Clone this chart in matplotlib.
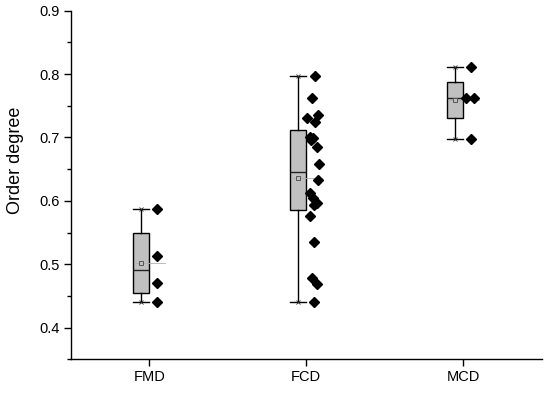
import numpy as np
import matplotlib
matplotlib.use("Agg")
import matplotlib.pyplot as plt
from matplotlib.ticker import MultipleLocator

plt.rcParams['font.family'] = ['Liberation Sans', 'DejaVu Sans']

categories = ["FMD", "FCD", "MCD"]
fmd = [0.587, 0.513, 0.470, 0.440]
fcd = [0.797, 0.763, 0.735, 0.730, 0.725, 0.700, 0.699, 0.696, 0.685, 0.658,
       0.633, 0.613, 0.605, 0.597, 0.594, 0.576, 0.535, 0.478, 0.469, 0.440]
mcd = [0.811, 0.763, 0.763, 0.697]
series = [fmd, fcd, mcd]

# horizontal jitter of the scatter points (data units, relative to point column)
fmd_jitter = [0.0, 0.0, 0.0, 0.0]
fcd_jitter = [0.01, -0.01, 0.025, -0.04, 0.01, -0.025, -0.005, -0.015, 0.02, 0.035,
              0.025, -0.025, -0.005, 0.02, 0.0, -0.025, 0.0, -0.012, 0.02, 0.0]
mcd_jitter = [0.0, -0.03, 0.02, 0.0]
jitters = [fmd_jitter, fcd_jitter, mcd_jitter]


def tukey_stats(data, label):
    d = np.sort(np.asarray(data))
    n = len(d)
    lower = d[:n // 2]
    upper = d[(n + 1) // 2:]
    return dict(label=label, med=float(np.median(d)), q1=float(np.median(lower)),
                q3=float(np.median(upper)), whislo=float(d.min()), whishi=float(d.max()),
                mean=float(np.mean(d)), fliers=[])


fig = plt.figure(figsize=(5.5, 3.93), dpi=100)
ax = fig.add_axes([0.1286, 0.0858, 0.985 - 0.1286, 0.9728 - 0.0858])

positions = np.arange(1, len(categories) + 1)
box_off = -0.052
pt_off = 0.047
bw = 0.10

stats = [tukey_stats(s, c) for s, c in zip(series, categories)]
ax.bxp(stats, positions=positions + box_off, widths=bw, patch_artist=True,
       showmeans=False, showfliers=False, capwidths=bw,
       boxprops=dict(facecolor='#c0c0c0', edgecolor='black', linewidth=1.0),
       medianprops=dict(color='#222222', linewidth=1.0),
       whiskerprops=dict(color='black', linewidth=1.0),
       capprops=dict(color='black', linewidth=1.0), zorder=2)

for p, st in zip(positions, stats):
    # mean line and mean marker
    ax.plot([p - 0.1, p + 0.1], [st['mean'], st['mean']], color='#b0b0b0', lw=0.6, zorder=3)
    ax.plot([p + box_off], [st['mean']], marker='s', ms=3.5, mfc='#c0c0c0', mec='#555555',
            mew=0.7, zorder=4)
    # x markers at whisker ends
    ax.plot([p + box_off] * 2, [st['whislo'], st['whishi']], ls='none', marker='x',
            ms=3.5, mec='#333333', mew=0.6, zorder=4)

for p, s, j in zip(positions, series, jitters):
    xs = p + pt_off + np.asarray(j)
    ax.plot(xs, s, ls='none', marker='D', ms=5.5, color='black', zorder=5)

ax.set_xlim(0.5, 3.5)
ax.set_ylim(0.35, 0.9)
ax.set_xticks(positions)
ax.set_xticklabels(categories)
ax.yaxis.set_major_locator(MultipleLocator(0.1))
ax.yaxis.set_minor_locator(MultipleLocator(0.05))
ax.set_yticks([0.4, 0.5, 0.6, 0.7, 0.8, 0.9])
ax.set_yticklabels(['0.4', '0.5', '0.6', '0.7', '0.8', '0.9'])
ax.tick_params(axis='both', which='major', direction='out', length=5, width=1,
               labelsize=10.5, pad=3)
ax.tick_params(axis='y', which='minor', direction='out', length=3, width=1)
ax.tick_params(axis='x', which='minor', bottom=False)
ax.spines['top'].set_visible(False)
ax.spines['right'].set_visible(False)
for sp in ('left', 'bottom'):
    ax.spines[sp].set_linewidth(1.0)
ax.set_ylabel('Order degree', fontsize=13)
ax.yaxis.set_label_coords(-0.099, 0.572)

fig.savefig('out.png', dpi=100)
